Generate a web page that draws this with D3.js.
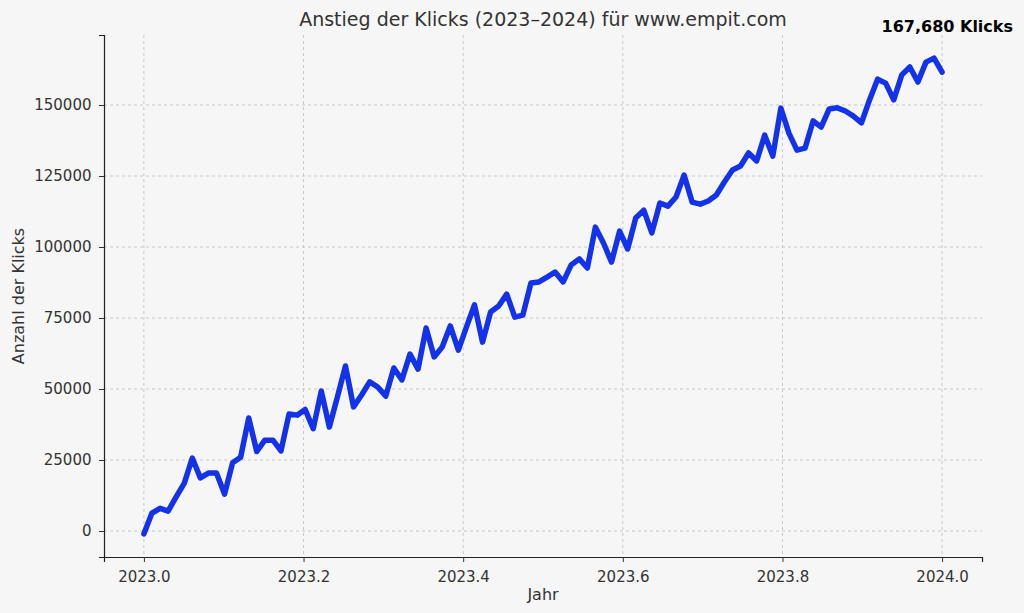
<!DOCTYPE html>
<html><head><meta charset="utf-8">
<script src="https://cdn.jsdelivr.net/npm/d3@7"></script>
<style>body{margin:0;background:#f6f6f6;font-family:"DejaVu Sans",sans-serif;}</style>
</head><body><svg id="c" width="1024" height="613"></svg>
<script>
const clicks = [-1000,6300,8000,7000,12000,16800,25700,18700,20400,20400,13000,24000,26000,39800,28000,32000,32000,28200,41200,40800,
42800,36000,49300,36600,47200,58100,43700,47900,52500,50700,47500,57400,53200,62300,57000,71500,61300,64800,72200,63700,
71800,79600,66500,77100,79200,83400,75300,76000,87300,87700,89400,91200,87700,93700,95800,92600,107000,101400,94700,105600,
99300,110200,113000,105000,115500,114400,117600,125300,115800,115100,116200,118300,122900,127100,128500,133100,130300,139400,132000,148900,
140100,134100,134800,144400,142200,148600,149000,147900,146100,143700,151800,159100,157700,151800,160600,163400,158100,165100,166500,161600];
const years = clicks.map((d,i)=>2023 + i/(clicks.length-1));
const xTicks = [2023.0,2023.2,2023.4,2023.6,2023.8,2024.0];
const yTicks = [0,25000,50000,75000,100000,125000,150000];
const title = "Anstieg der Klicks (2023–2024) für www.empit.com";
const annotation = "167,680 Klicks";

const svg = d3.select("#c");
const L=104,R=982,T=35,B=557;
const x = d3.scaleLinear().domain([2022.95,2024.05]).range([L,R]);
const y = d3.scaleLinear().domain([-9150,174650]).range([B,T]);

const g = svg.append("g");
g.selectAll(".gx").data(xTicks).join("line").attr("x1",d=>x(d)).attr("x2",d=>x(d)).attr("y1",T).attr("y2",B)
 .attr("stroke","#c8c8c8").attr("stroke-dasharray","3,3");
g.selectAll(".gy").data(yTicks).join("line").attr("y1",d=>y(d)).attr("y2",d=>y(d)).attr("x1",L).attr("x2",R)
 .attr("stroke","#c8c8c8").attr("stroke-dasharray","3,3");

const xa = svg.append("g").attr("transform",`translate(0,${B})`)
 .call(d3.axisBottom(x).tickValues(xTicks).tickFormat(d3.format(".1f")).tickSizeOuter(0).tickSize(5));
const ya = svg.append("g").attr("transform",`translate(${L},0)`)
 .call(d3.axisLeft(y).tickValues(yTicks).tickFormat(d=>String(d)).tickSizeOuter(0).tickSize(5));
[xa,ya].forEach(a=>{a.selectAll("text").attr("font-size",15).attr("fill","#333").attr("font-family","DejaVu Sans");
 a.select(".domain").attr("stroke","#222").attr("stroke-width",1.2);
 a.selectAll(".tick line").attr("stroke","#333");});
xa.selectAll("text").attr("dy","1.1em");
ya.selectAll("text").attr("dx","-0.3em");
svg.selectAll(".domain").each(function(){}); 
// only left and bottom spine shown (axes domains)

svg.append("path").datum(clicks).attr("fill","none").attr("stroke","#1432ea").attr("stroke-width",5.5)
 .attr("stroke-linejoin","round").attr("stroke-linecap","round")
 .attr("d",d3.line().x((d,i)=>x(years[i])).y(d=>y(d)));

svg.append("text").attr("x",543).attr("y",26).attr("text-anchor","middle").attr("font-size",19).attr("fill","#333").text(title);
svg.append("text").attr("x",543).attr("y",600).attr("text-anchor","middle").attr("font-size",16).attr("fill","#333").text("Jahr");
svg.append("text").attr("transform","translate(24,296) rotate(-90)").attr("text-anchor","middle").attr("font-size",16).attr("fill","#333").text("Anzahl der Klicks");
svg.append("text").attr("x",1013).attr("y",32).attr("text-anchor","end").attr("font-size",16).attr("font-weight","bold").attr("fill","#000").text(annotation);
</script></body></html>
